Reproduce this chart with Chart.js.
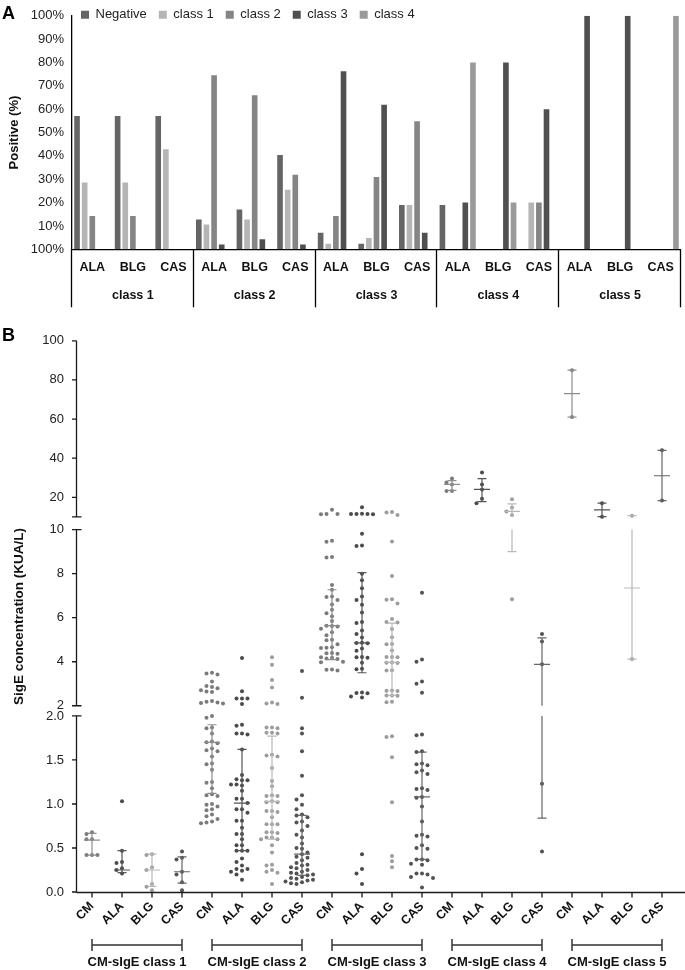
<!DOCTYPE html>
<html>
<head>
<meta charset="utf-8">
<script src="https://cdn.jsdelivr.net/npm/chart.js@4.4.1/dist/chart.umd.min.js"></script>
<style>
  body { margin: 0; background: #fff; }
  #wrapA { position: absolute; left: 0; top: 0; width: 685px; height: 320px; }
  #wrapB { position: absolute; left: 0; top: 320px; width: 685px; height: 650px; }
</style>
</head>
<body>
<div id="wrapA"><canvas id="chartA"></canvas></div>
<div id="wrapB"><canvas id="chartB"></canvas></div>
<script>
// ---- Panel A: share of positive results per component class ----
const classNamesA = ["class 1", "class 2", "class 3", "class 4", "class 5"];
const allergensA = ["ALA", "BLG", "CAS"];
const negativePct = [57.1, 57.1, 57.1, 12.8, 17.0, 40.4, 7.1, 2.4, 19.0, 19.0, 0, 0, 0, 0, 0];
const class1Pct = [28.6, 28.6, 42.9, 10.6, 12.8, 25.5, 2.4, 4.8, 19.0, 0, 0, 20.0, 0, 0, 0];
const class2Pct = [14.3, 14.3, 0, 74.5, 66.0, 31.9, 14.3, 31.0, 54.8, 0, 0, 20.0, 0, 0, 0];
const class3Pct = [0, 0, 0, 2.1, 4.3, 2.1, 76.2, 61.9, 7.1, 20.0, 80.0, 60.0, 100, 100, 0];
const class4Pct = [0, 0, 0, 0, 0, 0, 0, 0, 0, 80.0, 20.0, 0, 0, 0, 100];

// ---- Panel B: sIgE concentration (KUA/L) per CM-sIgE class ----
const allergensB = ["CM", "ALA", "BLG", "CAS"];
const groupNamesB = ["CM-sIgE class 1", "CM-sIgE class 2", "CM-sIgE class 3", "CM-sIgE class 4", "CM-sIgE class 5"];
const sigeClass1 = [
    [0.68, 0.66, 0.60, 0.60, 0.42, 0.42, 0.42],
    [1.03, 0.47, 0.34, 0.33, 0.27, 0.25, 0.21],
    [0.43, 0.42, 0.28, 0.25, 0.09, 0.06, 0.02],
    [0.46, 0.39, 0.37, 0.23, 0.20, 0.11, 0.02]
];
const sigeClass2 = [
    [3.50, 3.46, 3.42, 3.10, 2.90, 2.85, 2.80, 2.70, 2.62, 2.65, 2.22, 2.18, 2.15, 2.12, 2.10,
     2.00, 1.98, 1.87, 1.86, 1.80, 1.71, 1.70, 1.69, 1.63, 1.61, 1.60, 1.54, 1.46, 1.45, 1.39, 1.25,
     1.24, 1.18, 1.11, 1.10, 1.09, 1.00, 0.99, 0.97, 0.94, 0.93, 0.88, 0.86, 0.83, 0.80, 0.79, 0.78],
    [4.17, 2.66, 2.33, 2.33, 2.33, 2.08,
     1.90, 1.89, 1.80, 1.80, 1.79, 1.62, 1.33, 1.28, 1.27, 1.27, 1.22, 1.22, 1.21, 1.15, 1.06, 1.06,
     1.01, 0.94, 0.94, 0.90, 0.81, 0.81, 0.73, 0.66, 0.66, 0.60, 0.53, 0.53, 0.47, 0.47, 0.47, 0.38,
     0.34, 0.30, 0.26, 0.26, 0.24, 0.23, 0.20, 0.14],
    [4.20, 3.86, 3.17, 2.83, 2.15, 2.10, 2.08,
     1.87, 1.87, 1.86, 1.81, 1.81, 1.80, 1.56, 1.55, 1.54, 1.41, 1.26, 1.20, 1.10, 1.09, 1.09, 1.03,
     1.02, 1.02, 0.92, 0.92, 0.91, 0.85, 0.77, 0.77, 0.77, 0.68, 0.68, 0.67, 0.62, 0.62, 0.60, 0.60,
     0.53, 0.45, 0.31, 0.30, 0.25, 0.23, 0.22, 0.09],
    [3.58, 2.36,
     1.86, 1.80, 1.60, 1.32, 1.10, 1.05, 0.99, 0.94, 0.88, 0.87, 0.85, 0.80, 0.79, 0.75, 0.70, 0.65,
     0.62, 0.55, 0.50, 0.49, 0.45, 0.43, 0.40, 0.39, 0.36, 0.33, 0.31, 0.30, 0.28, 0.27, 0.25, 0.23,
     0.22, 0.21, 0.20, 0.19, 0.17, 0.16, 0.15, 0.14, 0.13, 0.12, 0.11, 0.10, 0.09]
];
const sigeClass3 = [
    [13.6, 11.5, 11.3, 11.4,
     9.50, 9.45, 8.76, 8.74, 7.49, 7.27, 6.96, 6.94, 6.80, 6.60, 6.36, 6.20, 6.07, 5.85, 5.64, 5.62,
     5.60, 5.50, 5.34, 5.20, 5.00, 4.98, 4.80, 4.66, 4.64, 4.62, 4.40, 4.38, 4.36, 4.20, 4.18, 4.15,
     4.12, 4.00, 3.98, 3.65, 3.63, 3.60],
    [14.9, 11.6, 11.5, 11.5, 11.4, 11.3,
     9.82, 9.28, 9.26, 8.00, 7.70, 7.34, 6.96, 6.80, 6.59, 6.24, 5.80, 5.76, 5.42, 5.26, 5.10, 4.86,
     4.85, 4.84, 4.60, 4.50, 4.22, 4.20, 4.18, 3.95, 3.68, 3.66, 2.60, 2.58, 2.57, 2.42, 2.38,
     0.43, 0.26, 0.21, 0.09],
    [12.5, 12.2, 10.9,
     9.46, 7.90, 6.84, 6.82, 6.65, 5.94, 5.80, 5.78, 5.49, 5.11, 4.81, 4.80, 4.51, 4.22, 4.21, 4.20,
     3.97, 3.95, 3.94, 3.61, 3.60, 2.69, 2.68, 2.67, 2.47, 2.46, 2.45, 2.18, 2.16,
     1.77, 1.76, 1.53, 1.02, 0.41, 0.35, 0.28],
    [7.14, 4.10, 4.00, 3.10, 3.00, 2.59,
     1.79, 1.78, 1.60, 1.59, 1.46, 1.45, 1.44, 1.38, 1.36, 1.34, 1.18, 1.17, 1.16, 1.08, 1.07, 0.97,
     0.80, 0.65, 0.64, 0.63, 0.53, 0.50, 0.49, 0.37, 0.37, 0.36, 0.32, 0.31, 0.21, 0.21, 0.20, 0.17,
     0.16, 0.05]
];
const sigeClass4 = [
    [29.6, 27.5, 26.6, 23.2, 23.2],
    [32.7, 26.6, 24.0, 19.2, 17.0],
    [19.0, 14.8, 12.7, 11.0, 6.84],
    [5.26, 4.92, 3.88, 1.23, 0.46]
];
const sigeClass5 = [
    [85.0, 61.0],
    [17.0, 10.1],
    [10.6, 4.12],
    [44.0, 18.3]
];
// median and interquartile range, read per column (CM, ALA, BLG, CAS for each class)
const sigeMedian = [0.59, 0.25, 0.25, 0.23, 1.70, 1.01, 1.03, 0.43, 5.64, 4.86, 3.97, 1.08, 26.6, 24.0, 12.75, 3.88, 73.0, 13.6, 7.35, 31.0];
const sigeQ1 = [0.42, 0.22, 0.065, 0.10, 1.12, 0.47, 0.60, 0.19, 4.10, 3.50, 2.47, 0.37, 23.5, 17.8, 9.0, 0.84, 61.0, 10.1, 4.12, 18.3];
const sigeQ3 = [0.665, 0.47, 0.43, 0.40, 1.90, 1.62, 1.77, 0.87, 7.27, 8.05, 5.75, 1.59, 28.5, 29.5, 16.6, 5.08, 85.0, 17.0, 10.6, 44.0];

// broken y axis of panel B: three pieces 0-2, 2-10, 10-100
const segLow = [0, 2, 10];
const segHigh = [2, 10, 100];
const segBase = [0, 1.058, 2.131];
const yTickValues = [0, 0.5, 1.0, 1.5, 2.0, 2, 4, 6, 8, 10, 10, 20, 40, 60, 80, 100];
const yTickSegment = [0, 0, 0, 0, 0, 1, 1, 1, 1, 1, 2, 2, 2, 2, 2, 2];
const yTickLabels = ["0.0", "0.5", "1.0", "1.5", "2.0", "2", "4", "6", "8", "10", "", "20", "40", "60", "80", "100"];

const FONT = "'Liberation Sans', Arial, sans-serif";
Chart.defaults.font.family = FONT;
Chart.defaults.color = "#1a1a1a";

const barColors = ["#656565", "#b5b5b5", "#858585", "#505050", "#9a9a9a"];
const dotColors = ["#7b7b7b", "#4b4b4b", "#9d9d9d", "#535353"];
const whiskerColors = ["#8e8e8e", "#555555", "#b8b8b8", "#666666"];

function segAxis(seg, v) {
    return segBase[seg] + (v - segLow[seg]) / (segHigh[seg] - segLow[seg]);
}

function toAxis(v) {
    let s = 0;
    while (s < 2 && v > segHigh[s]) s++;
    return segAxis(s, v);
}

// simple beeswarm: spread dots sideways when they would overlap
function swarmOffsets(values) {
    const pts = values.map((v, i) => ({ i, py: toAxis(v) * 177.5 }));
    pts.sort((p, q) => q.py - p.py);
    const placed = [];
    const out = new Array(values.length).fill(0);
    pts.forEach(p => {
        for (const k of [0, -1, 1, -2, 2, -3, 3]) {
            const ox = k * 5.5;
            if (placed.every(q => Math.hypot(q.ox - ox, q.py - p.py) >= 4.7)) {
                placed.push({ ox, py: p.py });
                out[p.i] = ox / 30;
                break;
            }
        }
    });
    return out;
}

// ---------------- Chart A ----------------
const labelsA = [];
classNamesA.forEach(() => allergensA.forEach(a => labelsA.push(a)));

// legend sits inside the plot area, over the top of the bars
const legendInside = {
    id: "legendInside",
    beforeLayout(chart) {
        const lg = chart.legend;
        if (lg && !lg._patched) {
            const fit = lg.fit;
            lg.fit = function () { fit.call(this); this.height = 0; };
            lg._patched = true;
        }
    },
    afterLayout(chart) {
        const lg = chart.legend;
        lg.top = 14.7 - 6.5 - 12;
        lg.bottom = lg.top + 34;
        lg.left -= 3;
    }
};

const groupSeparators = {
    id: "groupSeparators",
    afterDraw(chart) {
        const { ctx, chartArea: { left, right, bottom } } = chart;
        const w = (right - left) / classNamesA.length;
        ctx.save();
        ctx.strokeStyle = "#000";
        ctx.lineWidth = 1.3;
        for (let k = 0; k <= classNamesA.length; k++) {
            const x = Math.round(left + k * w) - 0.5;
            ctx.beginPath();
            ctx.moveTo(x, bottom);
            ctx.lineTo(x, bottom + 58);
            ctx.stroke();
        }
        ctx.fillStyle = "#000";
        ctx.font = "bold 18px " + FONT;
        ctx.textBaseline = "alphabetic";
        ctx.fillText("A", 2, 19);
        ctx.restore();
    }
};

new Chart(document.getElementById("chartA"), {
    type: "bar",
    data: {
        labels: labelsA,
        datasets: [
            { label: "Negative", data: negativePct, backgroundColor: barColors[0] },
            { label: "class 1", data: class1Pct, backgroundColor: barColors[1] },
            { label: "class 2", data: class2Pct, backgroundColor: barColors[2] },
            { label: "class 3", data: class3Pct, backgroundColor: barColors[3] },
            { label: "class 4", data: class4Pct, backgroundColor: barColors[4] }
        ]
    },
    options: {
        animation: false,
        responsive: true,
        maintainAspectRatio: false,
        layout: { padding: { top: 10, right: 2, bottom: 0, left: 0 } },
        datasets: { bar: { barPercentage: 0.74, categoryPercentage: 0.94 } },
        plugins: {
            tooltip: { enabled: false },
            legend: {
                position: "top",
                align: "start",
                fullSize: false,
                labels: { boxWidth: 8, boxHeight: 8, padding: 12, color: "#222", font: { size: 13 } }
            }
        },
        scales: {
            x: {
                grid: { display: false, drawTicks: false },
                border: { display: true, color: "#000", width: 1.3 },
                ticks: { color: "#111", padding: 11, font: { size: 12.5, weight: "bold" } },
                afterFit(s) { s.height = 30; }
            },
            x2: {
                type: "category",
                labels: classNamesA,
                position: "bottom",
                grid: { display: false, drawTicks: false },
                border: { display: false },
                ticks: { color: "#111", padding: 9, font: { size: 12.5, weight: "bold" } },
                afterFit(s) { s.height = 40.7; }
            },
            y: {
                min: 0,
                max: 100,
                grid: { display: false, drawTicks: false },
                border: { display: true, color: "#000", width: 1.3 },
                ticks: {
                    stepSize: 10,
                    color: "#222",
                    padding: 8,
                    font: { size: 13 },
                    callback: v => (v === 0 ? 100 : v) + "%"
                },
                title: {
                    display: true,
                    text: "Positive (%)",
                    color: "#111",
                    font: { size: 13, weight: "bold" },
                    padding: { top: 7, bottom: 0 }
                },
                afterFit(s) { s.width = 72; }
            }
        }
    },
    plugins: [legendInside, groupSeparators]
});

// ---------------- Chart B ----------------
const sigeGroups = [sigeClass1, sigeClass2, sigeClass3, sigeClass4, sigeClass5];
const labelsB = [];
groupNamesB.forEach(() => allergensB.forEach(a => labelsB.push(a)));

const datasetsB = allergensB.map((name, a) => {
    const pts = [];
    sigeGroups.forEach((grp, g) => {
        const vals = grp[a];
        const offs = swarmOffsets(vals);
        vals.forEach((v, i) => pts.push({ x: g * 4 + a + offs[i], y: toAxis(v) }));
    });
    return {
        label: name,
        data: pts,
        pointRadius: 2,
        pointHoverRadius: 2,
        pointBorderWidth: 0,
        pointBackgroundColor: dotColors[a],
        showLine: false
    };
});

const tickAxisValue = i => segAxis(yTickSegment[i], yTickValues[i]);

const medianBars = {
    id: "medianBars",
    afterDatasetsDraw(chart) {
        const { ctx, scales: { x, y } } = chart;
        ctx.save();
        ctx.lineWidth = 1.2;
        sigeMedian.forEach((m, idx) => {
            const a = idx % 4;
            const xc = x.getPixelForValue(idx);
            const lo = toAxis(sigeQ1[idx]), hi = toAxis(sigeQ3[idx]);
            ctx.strokeStyle = whiskerColors[a];
            ctx.beginPath();
            for (let s = 0; s < 3; s++) {
                const a0 = Math.max(lo, segBase[s]);
                const a1 = Math.min(hi, segBase[s] + 1);
                if (a1 > a0) {
                    ctx.moveTo(xc, y.getPixelForValue(a0));
                    ctx.lineTo(xc, y.getPixelForValue(a1));
                }
            }
            [lo, hi].forEach(v => {
                const py = y.getPixelForValue(v);
                ctx.moveTo(xc - 4.5, py);
                ctx.lineTo(xc + 4.5, py);
            });
            const pm = y.getPixelForValue(toAxis(m));
            ctx.moveTo(xc - 8, pm);
            ctx.lineTo(xc + 8, pm);
            ctx.stroke();
        });
        ctx.restore();
    }
};

const brokenAxes = {
    id: "brokenAxes",
    afterDraw(chart) {
        const { ctx, chartArea: { left, bottom }, scales: { x, y } } = chart;
        ctx.save();
        ctx.strokeStyle = "#1a1a1a";
        ctx.lineWidth = 1.3;
        const ax = left - 0.5;
        ctx.beginPath();
        for (let s = 0; s < 3; s++) {
            ctx.moveTo(ax, y.getPixelForValue(segBase[s]));
            ctx.lineTo(ax, y.getPixelForValue(segBase[s] + 1));
        }
        yTickValues.forEach((v, i) => {
            const s = yTickSegment[i];
            const py = y.getPixelForValue(tickAxisValue(i));
            const isBreak = (v === segLow[s] && s > 0) || (v === segHigh[s] && s < 2);
            ctx.moveTo(ax - 4.5, py);
            ctx.lineTo(isBreak ? ax + 5 : ax, py);
        });
        const by = bottom + 0.5;
        ctx.moveTo(ax, by);
        ctx.lineTo(685, by);
        labelsB.forEach((_, i) => {
            const px = x.getPixelForValue(i);
            ctx.moveTo(px, by);
            ctx.lineTo(px, by + 5);
        });
        ctx.stroke();

        // group brackets under the rotated labels
        const gy = bottom + 53;
        ctx.lineWidth = 1.5;
        ctx.strokeStyle = "#333";
        ctx.fillStyle = "#111";
        ctx.font = "bold 13px " + FONT;
        ctx.textAlign = "center";
        ctx.textBaseline = "middle";
        groupNamesB.forEach((name, g) => {
            const x0 = x.getPixelForValue(g * 4);
            const x1 = x.getPixelForValue(g * 4 + 3);
            ctx.beginPath();
            ctx.moveTo(x0, gy); ctx.lineTo(x1, gy);
            ctx.moveTo(x0, gy - 6); ctx.lineTo(x0, gy + 6);
            ctx.moveTo(x1, gy - 6); ctx.lineTo(x1, gy + 6);
            ctx.stroke();
            ctx.fillText(name, (x0 + x1) / 2, gy + 17);
        });

        ctx.textAlign = "left";
        ctx.textBaseline = "alphabetic";
        ctx.fillStyle = "#000";
        ctx.font = "bold 18px " + FONT;
        ctx.fillText("B", 2, 21);
        ctx.restore();
    }
};

new Chart(document.getElementById("chartB"), {
    type: "scatter",
    data: { datasets: datasetsB },
    options: {
        animation: false,
        responsive: true,
        maintainAspectRatio: false,
        layout: { padding: { top: 16, right: 8, bottom: 0, left: 0 } },
        plugins: { legend: { display: false }, tooltip: { enabled: false } },
        scales: {
            x: {
                type: "linear",
                min: -0.5,
                max: labelsB.length - 0.5,
                grid: { display: false, drawTicks: false },
                border: { display: false },
                afterBuildTicks(s) { s.ticks = labelsB.map((_, i) => ({ value: i })); },
                ticks: {
                    autoSkip: false,
                    minRotation: 45,
                    maxRotation: 45,
                    padding: 7,
                    color: "#111",
                    font: { size: 12.5, weight: "bold" },
                    callback: (v, i) => labelsB[i]
                },
                afterFit(s) { s.height = 78; }
            },
            y: {
                type: "linear",
                min: 0,
                max: segBase[2] + 1,
                grid: { display: false, drawTicks: false },
                border: { display: false },
                afterBuildTicks(s) { s.ticks = yTickValues.map((_, i) => ({ value: tickAxisValue(i) })); },
                ticks: {
                    autoSkip: false,
                    padding: 13,
                    color: "#222",
                    font: { size: 13 },
                    callback: (v, i) => yTickLabels[i]
                },
                title: {
                    display: true,
                    text: "SigE concentration (KUA/L)",
                    color: "#111",
                    font: { size: 13.5, weight: "bold" },
                    padding: { top: 11, bottom: 0 }
                },
                afterFit(s) { s.width = 77; }
            }
        }
    },
    plugins: [medianBars, brokenAxes]
});
</script>
</body>
</html>
